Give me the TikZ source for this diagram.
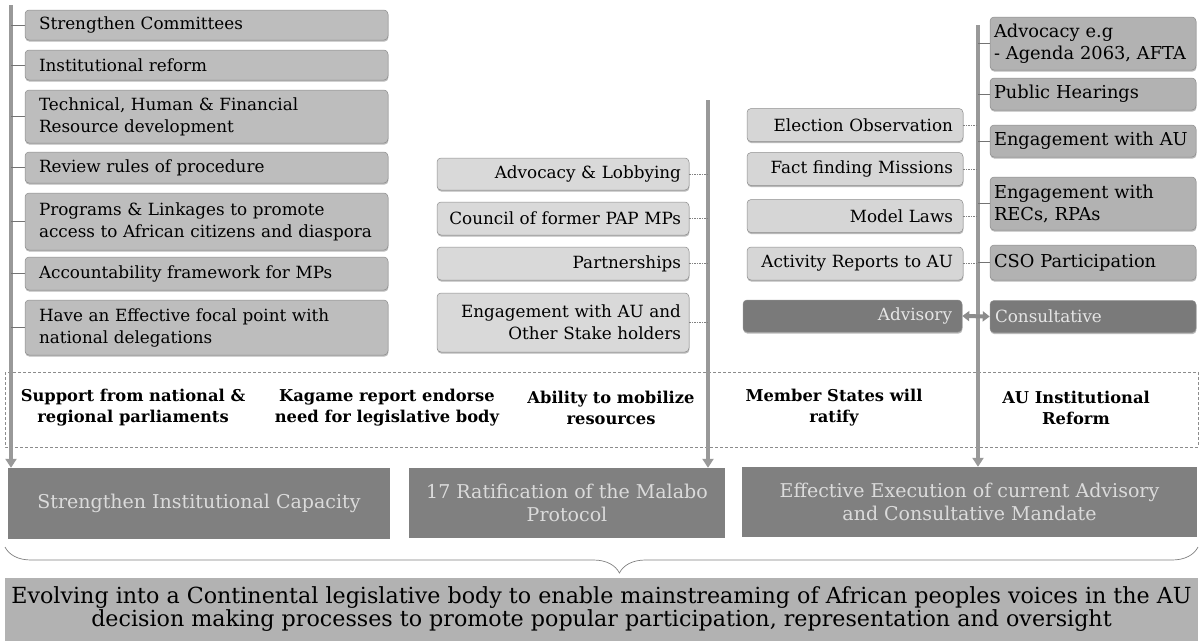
\documentclass[tikz,border=0pt]{standalone}
\usepackage{fontspec}
\setmainfont{DejaVu Serif}
\usetikzlibrary{arrows.meta,shadows,decorations.pathreplacing}

\newcommand\itemsize{\fontsize{16.8}{22}\selectfont}
\newcommand\mandsize{\fontsize{17.8}{22}\selectfont}
\newcommand\premsize{\fontsize{16.3}{21}\selectfont}
\newcommand\goalsize{\fontsize{19}{23}\selectfont}
\newcommand\aimsize{\fontsize{22.2}{23}\selectfont}

\tikzset{
  item/.style={rounded corners=4pt, draw=black!45, line width=0.5pt, inner ysep=2pt,
    font=\itemsize, drop shadow={shadow xshift=0.4pt, shadow yshift=-1.6pt, fill=black!55}},
  capbox/.style={item, fill=black!26, text width=335pt, inner xsep=14pt, align=left},
  netbox/.style={item, fill=black!15, text width=236pt, inner xsep=8pt, align=right},
  obsbox/.style={item, fill=black!16, text width=196pt, inner xsep=10pt, align=right},
  mandbox/.style={item, fill=black!30, text width=198pt, inner xsep=4pt, align=left, font=\mandsize},
  modebox/.style={item, fill=black!52, text=white!90!black, minimum height=32pt},
  goal/.style={fill=black!50, text=white!86!black, font=\goalsize, align=center, inner sep=0pt},
  premise/.style={font=\premsize\bfseries, align=center, inner sep=0pt},
  spine/.style={line width=3.5pt, draw=black!40, -{Triangle[width=11pt,length=9pt]}},
  tick/.style={line width=0.8pt, draw=black!55},
  dottick/.style={line width=0.8pt, draw=black!50, dash pattern=on 1.5pt off 1pt},
}

\begin{document}
\begin{tikzpicture}[x=1pt, y=-1pt]
  \useasboundingbox (0,0) rectangle (1202,643);

  % assumptions band
  \draw[black!45, line width=0.6pt, dash pattern=on 3pt off 2pt] (5,372) rectangle (1198,447);

  % goals
  \node[goal, minimum width=382pt, minimum height=71pt] (g1) at (199,503.5) {Strengthen Institutional Capacity};
  \node[goal, minimum width=316pt, minimum height=70pt] (g2) at (567,503) {17 Ratification of the Malabo\\Protocol};
  \node[goal, minimum width=455pt, minimum height=70pt] (g3) at (969.5,502) {Effective Execution of current Advisory\\and Consultative Mandate};

  % spines
  \coordinate (lspine) at (11,5);
  \coordinate (mspine) at (708,100);
  \coordinate (rspine) at (978,25);
  \draw[spine] (lspine) -- (lspine |- g1.north);
  \draw[spine] (mspine) -- (mspine |- g2.north);
  \draw[spine] (rspine) -- (rspine |- g3.north);

  % capacity actions
  \foreach \y/\h/\t [count=\i] in {
      25/30/{Strengthen Committees},
      65/30/{Institutional reform},
      116.5/53/{Technical, Human \& Financial\\Resource development},
      167.5/31/{Review rules of procedure},
      221.5/57/{Programs \& Linkages to promote\\access to African citizens and diaspora},
      273.5/33/{Accountability framework for MPs},
      327.5/55/{Have an Effective focal point with\\national delegations}} {
    \draw[tick] (lspine |- 0,\y) -- (25,\y);
    \node[capbox, minimum height=\h pt] (c\i) at (206.5,\y) {\t};
  }

  % ratification actions
  \foreach \y/\h/\t [count=\i] in {
      174/32/{Advocacy \& Lobbying},
      218.5/33/{Council of former PAP MPs},
      263.5/33/{Partnerships},
      322.5/59/{Engagement with AU and\\Other Stake holders}} {
    \node[netbox, minimum height=\h pt] (n\i) at (563,\y) {\t};
    \draw[dottick] (n\i.east) -- (n\i.east -| mspine);
  }

  % advisory side
  \foreach \y/\t [count=\i] in {
      125/{Election Observation},
      169/{Fact finding Missions},
      216/{Model Laws},
      263.5/{Activity Reports to AU}} {
    \node[obsbox, minimum height=33pt] (o\i) at (855,\y) {\t};
    \draw[dottick] (o\i.east) -- (o\i.east -| rspine);
  }

  % consultative side
  \foreach \y/\h/\t [count=\i] in {
      43.5/53/{Advocacy e.g\\- Agenda 2063, AFTA},
      94/32/{Public Hearings},
      141/32/{Engagement with AU},
      203.5/53/{Engagement with\\RECs, RPAs},
      262.5/35/{CSO Participation}} {
    \node[mandbox, minimum height=\h pt] (q\i) at (1093,\y) {\t};
    \draw[tick] (q\i.west -| rspine) -- (q\i.west);
  }

  % mandate modes
  \node[modebox, minimum width=219pt, text width=199pt, inner xsep=10pt, align=right] (adv) at (852.5,316) {Advisory};
  \node[modebox, minimum width=206pt, text width=196pt, inner xsep=5pt, align=left] (con) at (1093,316.5) {Consultative};
  \draw[line width=4pt, black!45, {Triangle[width=10pt,length=7pt]}-{Triangle[width=10pt,length=7pt]}] (adv.east) -- (con.west);

  % premises
  \node[premise] (p1) at (133,408) {Support from national \&\\regional parliaments};
  \node[premise] (p2) at (387,408) {Kagame report endorse\\need for legislative body};
  \node[premise] (p3) at (611,408) {Ability to mobilize\\resources};
  \node[premise] (p4) at (834,408) {Member States will\\ratify};
  \node[premise] (p5) at (1076,408) {AU Institutional\\Reform};

  % overall aim
  \draw[black!50, line width=0.7pt, decorate, decoration={brace, mirror, amplitude=26pt, aspect=0.515}] (5,547) -- (1198,547);
  \node[fill=black!30, font=\aimsize, align=center, minimum width=1193pt, minimum height=63pt] (aim) at (601.5,609.5)
    {Evolving into a Continental legislative body to enable mainstreaming of African peoples voices in the AU\\decision making processes to promote popular participation, representation and oversight};
\end{tikzpicture}
\end{document}
